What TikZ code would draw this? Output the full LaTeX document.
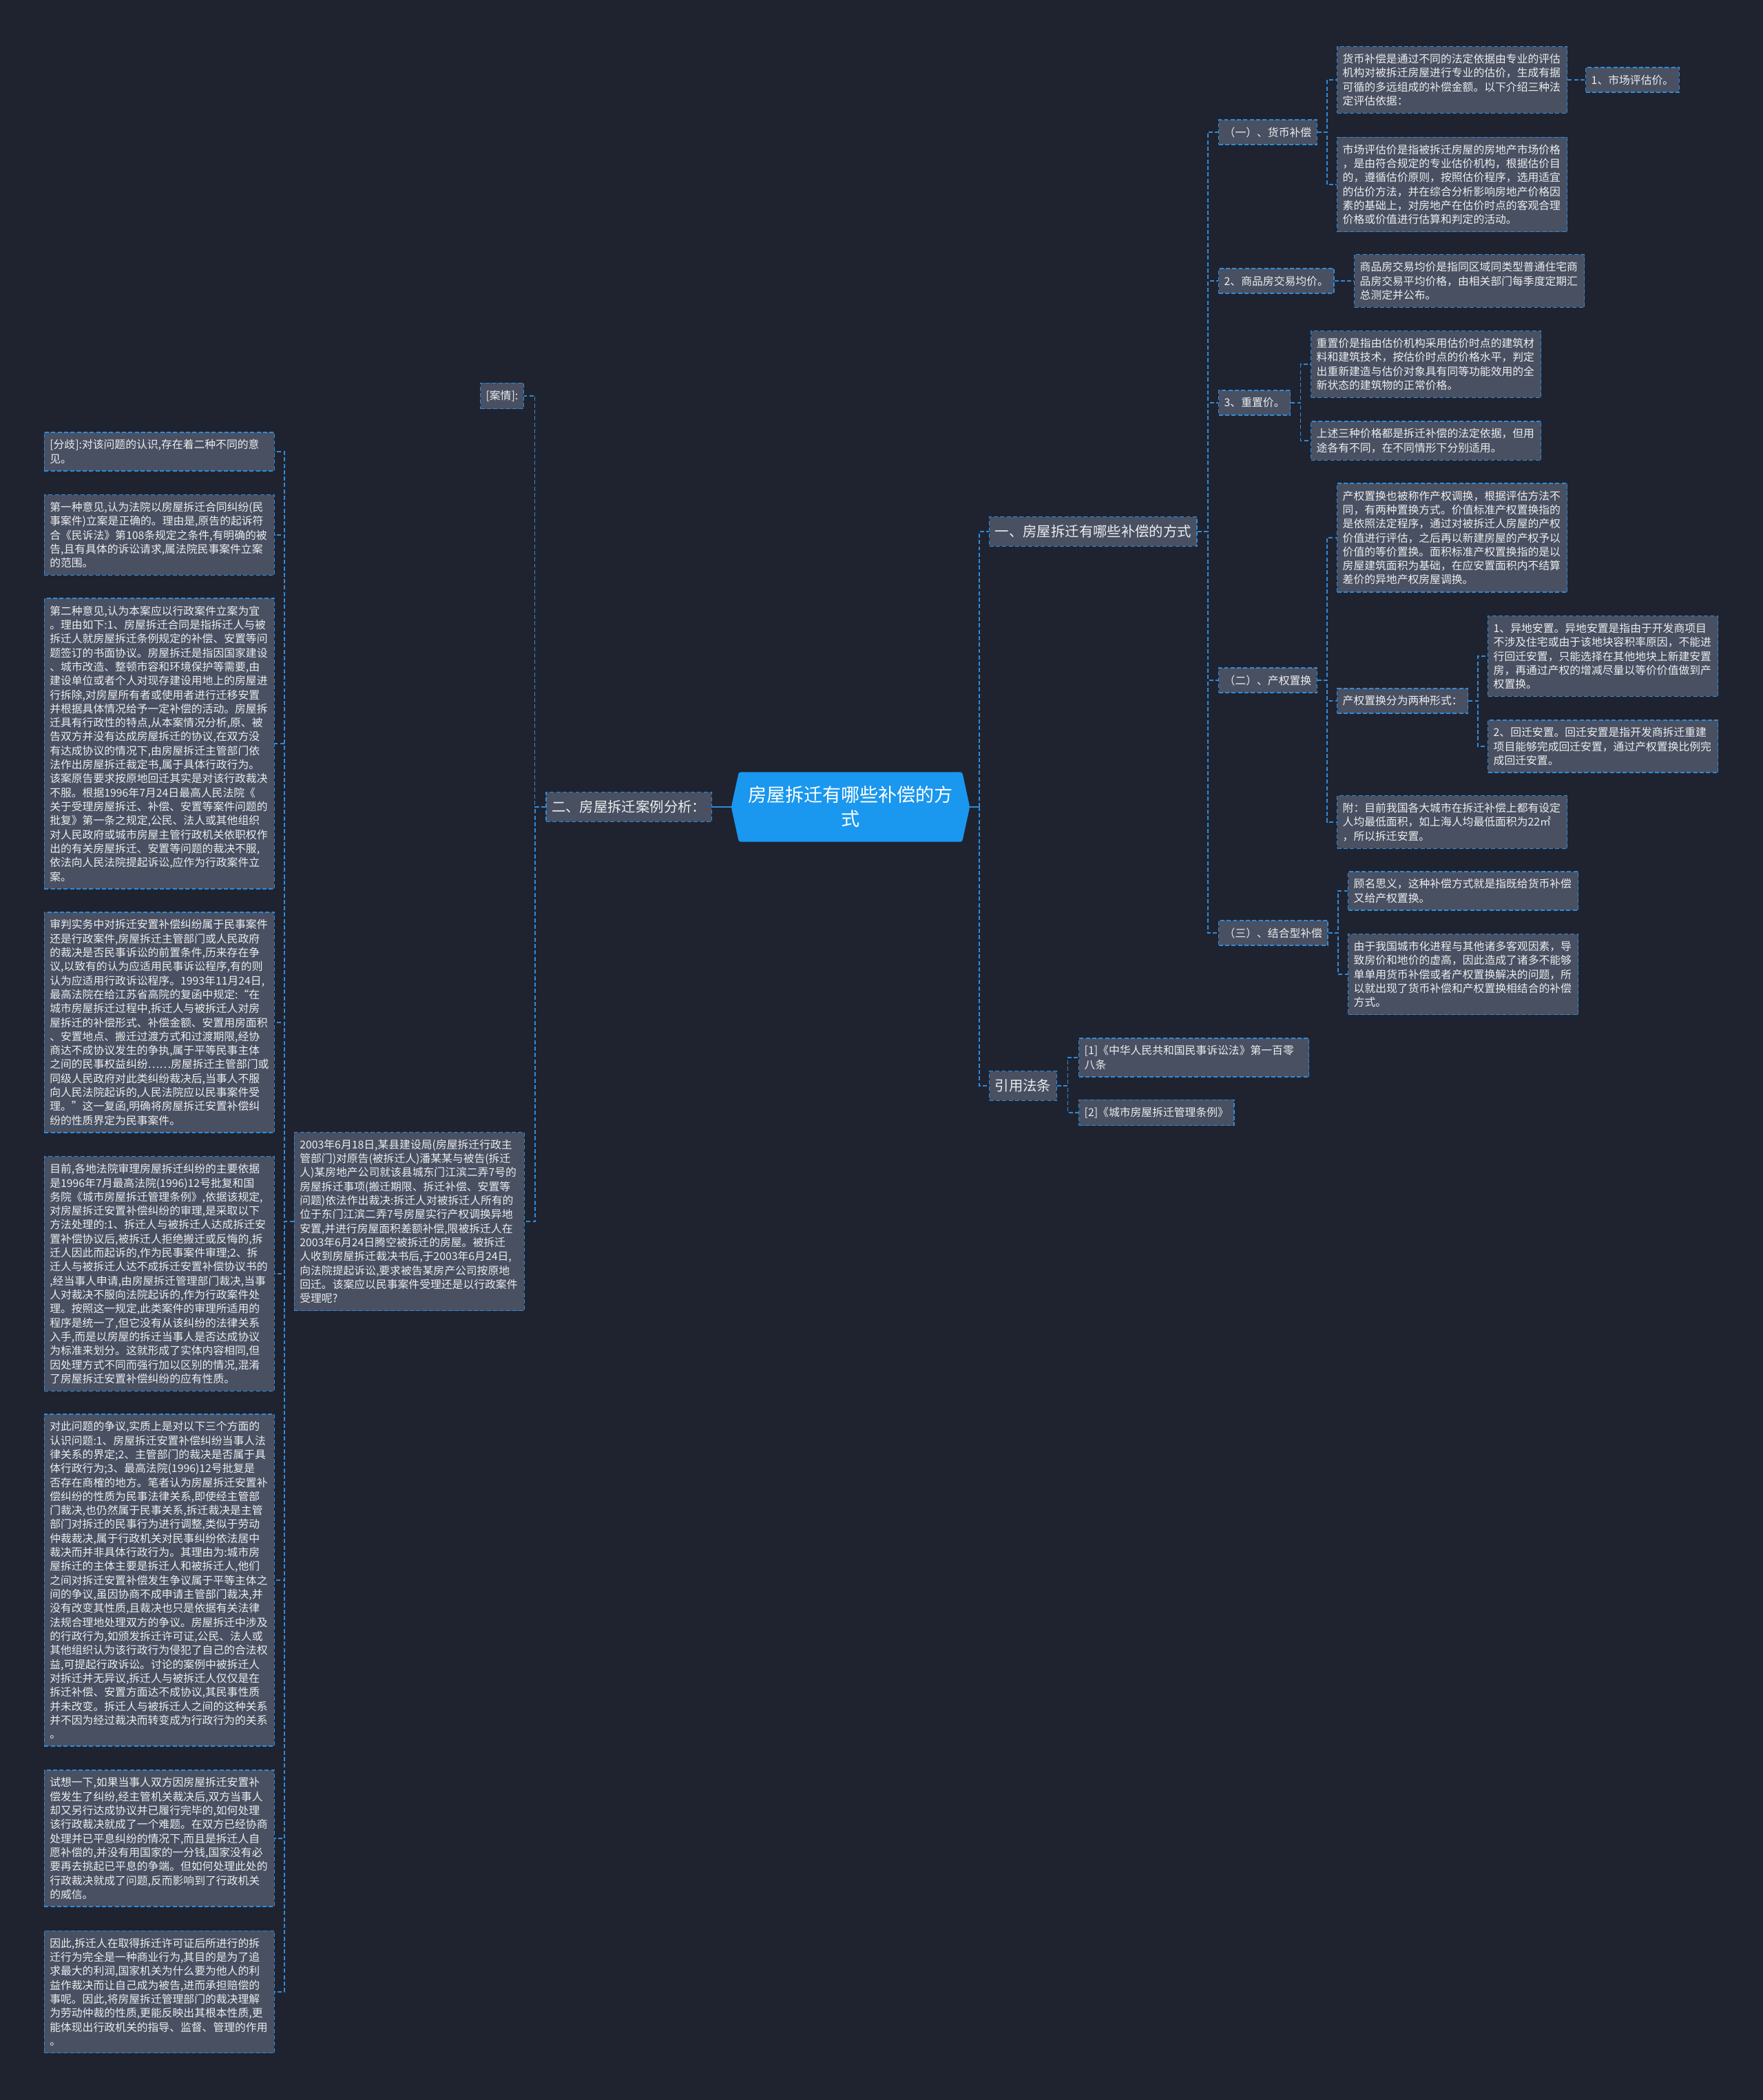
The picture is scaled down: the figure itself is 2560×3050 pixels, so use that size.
\documentclass[tikz,border=0pt]{standalone}
\usepackage{fontspec}
\setmainfont{Noto Sans CJK SC}
\usetikzlibrary{positioning}
\usetikzlibrary{calc}
\usetikzlibrary{backgrounds}
\definecolor{bgdark}{HTML}{1F2330}
\definecolor{boxgray}{HTML}{485062}
\definecolor{lineblue}{HTML}{2F8BD9}
\definecolor{rootblue}{HTML}{1A97EE}
\definecolor{txtwhite}{HTML}{EDEDED}

\begin{document}
\begin{tikzpicture}[x=0.1mm, y=-0.1mm,
    every node/.style={font=\fontsize{4.5pt}{5.78pt}\selectfont, text=txtwhite},
    topic/.style={draw=lineblue, dash pattern=on 1.7pt off 0.95pt, line width=0.4pt, fill=boxgray, inner xsep=0.8mm, inner ysep=1.05mm, align=left},
    wide/.style={topic, text width=31.8mm},
    major/.style={topic, font=\fontsize{5.8pt}{7pt}\selectfont, inner ysep=1.2mm},
    link/.style={draw=lineblue, dash pattern=on 1.7pt off 0.95pt, line width=0.43pt}]
\useasboundingbox (0,0) rectangle (2560,3050);

\node[font=\fontsize{7.7pt}{10pt}\selectfont, text=white, align=center, minimum width=32.3mm, minimum height=10mm] (root) at (1235,1172) {房屋拆迁有哪些补偿的方\\式};

\node[major, anchor=west] (ways) at (1436,772) {一、房屋拆迁有哪些补偿的方式};
\node[major, anchor=west] (law) at (1436,1577) {引用法条};
\node[major, anchor=east] (case) at (1034,1172) {二、房屋拆迁案例分析：};

\node[topic, anchor=west] (cash) at (1769,192) {（一）、货币补偿};
\node[wide, anchor=west] (cashA) at (1941,116) {货币补偿是通过不同的法定依据由专业的评估\\机构对被拆迁房屋进行专业的估价，生成有据\\可循的多远组成的补偿金额。以下介绍三种法\\定评估依据：};
\node[topic, anchor=west] (market) at (2302,116) {1、市场评估价。};
\node[wide, anchor=west] (cashB) at (1941,268) {市场评估价是指被拆迁房屋的房地产市场价格\\，是由符合规定的专业估价机构，根据估价目\\的，遵循估价原则，按照估价程序，选用适宜\\的估价方法，并在综合分析影响房地产价格因\\素的基础上，对房地产在估价时点的客观合理\\价格或价值进行估算和判定的活动。};
\node[topic, anchor=west] (avg) at (1769,408) {2、商品房交易均价。};
\node[wide, anchor=west] (avgA) at (1966,408) {商品房交易均价是指同区域同类型普通住宅商\\品房交易平均价格，由相关部门每季度定期汇\\总测定并公布。};
\node[topic, anchor=west] (reset) at (1769,585) {3、重置价。};
\node[wide, anchor=west] (resetA) at (1903,529) {重置价是指由估价机构采用估价时点的建筑材\\料和建筑技术，按估价时点的价格水平，判定\\出重新建造与估价对象具有同等功能效用的全\\新状态的建筑物的正常价格。};
\node[wide, anchor=west] (resetB) at (1903,640) {上述三种价格都是拆迁补偿的法定依据，但用\\途各有不同，在不同情形下分别适用。};
\node[topic, anchor=west] (swap) at (1769,988) {（二）、产权置换};
\node[wide, anchor=west] (swapA) at (1941,781) {产权置换也被称作产权调换，根据评估方法不\\同，有两种置换方式。价值标准产权置换指的\\是依照法定程序，通过对被拆迁人房屋的产权\\价值进行评估，之后再以新建房屋的产权予以\\价值的等价置换。面积标准产权置换指的是以\\房屋建筑面积为基础，在应安置面积内不结算\\差价的异地产权房屋调换。};
\node[topic, anchor=west] (forms) at (1941,1018) {产权置换分为两种形式：};
\node[wide, anchor=west] (formA) at (2160,953) {1、异地安置。异地安置是指由于开发商项目\\不涉及住宅或由于该地块容积率原因，不能进\\行回迁安置，只能选择在其他地块上新建安置\\房，再通过产权的增减尽量以等价价值做到产\\权置换。};
\node[wide, anchor=west] (formB) at (2160,1084) {2、回迁安置。回迁安置是指开发商拆迁重建\\项目能够完成回迁安置，通过产权置换比例完\\成回迁安置。};
\node[wide, anchor=west] (swapB) at (1941,1194) {附：目前我国各大城市在拆迁补偿上都有设定\\人均最低面积，如上海人均最低面积为22㎡\\，所以拆迁安置。};
\node[topic, anchor=west] (mixed) at (1769,1355) {（三）、结合型补偿};
\node[wide, anchor=west] (mixedA) at (1957,1294) {顾名思义，这种补偿方式就是指既给货币补偿\\又给产权置换。};
\node[wide, anchor=west] (mixedB) at (1957,1415) {由于我国城市化进程与其他诸多客观因素，导\\致房价和地价的虚高，因此造成了诸多不能够\\单单用货币补偿或者产权置换解决的问题，所\\以就出现了货币补偿和产权置换相结合的补偿\\方式。};
\node[wide, anchor=west] (lawA) at (1566,1536) {[1]《中华人民共和国民事诉讼法》第一百零\\八条};
\node[topic, anchor=west] (lawB) at (1566,1616) {[2]《城市房屋拆迁管理条例》};

\node[topic, anchor=east] (facts) at (761,575) {[案情]:};
\node[wide, anchor=east] (story) at (762,1774) {2003年6月18日,某县建设局(房屋拆迁行政主\\管部门)对原告(被拆迁人)潘某某与被告(拆迁\\人)某房地产公司就该县城东门江滨二弄7号的\\房屋拆迁事项(搬迁期限、拆迁补偿、安置等\\问题)依法作出裁决:拆迁人对被拆迁人所有的\\位于东门江滨二弄7号房屋实行产权调换异地\\安置,并进行房屋面积差额补偿,限被拆迁人在\\2003年6月24日腾空被拆迁的房屋。被拆迁\\人收到房屋拆迁裁决书后,于2003年6月24日,\\向法院提起诉讼,要求被告某房产公司按原地\\回迁。该案应以民事案件受理还是以行政案件\\受理呢?};
\node[wide, anchor=east] (split) at (399,656) {[分歧]:对该问题的认识,存在着二种不同的意\\见。};
\node[wide, anchor=east] (view1) at (399,777) {第一种意见,认为法院以房屋拆迁合同纠纷(民\\事案件)立案是正确的。理由是,原告的起诉符\\合《民诉法》第108条规定之条件,有明确的被\\告,且有具体的诉讼请求,属法院民事案件立案\\的范围。};
\node[wide, anchor=east] (view2) at (399,1080) {第二种意见,认为本案应以行政案件立案为宜\\。理由如下:1、房屋拆迁合同是指拆迁人与被\\拆迁人就房屋拆迁条例规定的补偿、安置等问\\题签订的书面协议。房屋拆迁是指因国家建设\\、城市改造、整顿市容和环境保护等需要,由\\建设单位或者个人对现存建设用地上的房屋进\\行拆除,对房屋所有者或使用者进行迁移安置\\并根据具体情况给予一定补偿的活动。房屋拆\\迁具有行政性的特点,从本案情况分析,原、被\\告双方并没有达成房屋拆迁的协议,在双方没\\有达成协议的情况下,由房屋拆迁主管部门依\\法作出房屋拆迁裁定书,属于具体行政行为。\\该案原告要求按原地回迁其实是对该行政裁决\\不服。根据1996年7月24日最高人民法院《\\关于受理房屋拆迁、补偿、安置等案件问题的\\批复》第一条之规定,公民、法人或其他组织\\对人民政府或城市房屋主管行政机关依职权作\\出的有关房屋拆迁、安置等问题的裁决不服,\\依法向人民法院提起诉讼,应作为行政案件立\\案。};
\node[wide, anchor=east] (practice) at (399,1485) {审判实务中对拆迁安置补偿纠纷属于民事案件\\还是行政案件,房屋拆迁主管部门或人民政府\\的裁决是否民事诉讼的前置条件,历来存在争\\议,以致有的认为应适用民事诉讼程序,有的则\\认为应适用行政诉讼程序。1993年11月24日,\\最高法院在给江苏省高院的复函中规定:“在\\城市房屋拆迁过程中,拆迁人与被拆迁人对房\\屋拆迁的补偿形式、补偿金额、安置用房面积\\、安置地点、搬迁过渡方式和过渡期限,经协\\商达不成协议发生的争执,属于平等民事主体\\之间的民事权益纠纷……房屋拆迁主管部门或\\同级人民政府对此类纠纷裁决后,当事人不服\\向人民法院起诉的,人民法院应以民事案件受\\理。”这一复函,明确将房屋拆迁安置补偿纠\\纷的性质界定为民事案件。};
\node[wide, anchor=east] (basis) at (399,1850) {目前,各地法院审理房屋拆迁纠纷的主要依据\\是1996年7月最高法院(1996)12号批复和国\\务院《城市房屋拆迁管理条例》,依据该规定,\\对房屋拆迁安置补偿纠纷的审理,是采取以下\\方法处理的:1、拆迁人与被拆迁人达成拆迁安\\置补偿协议后,被拆迁人拒绝搬迁或反悔的,拆\\迁人因此而起诉的,作为民事案件审理;2、拆\\迁人与被拆迁人达不成拆迁安置补偿协议书的\\,经当事人申请,由房屋拆迁管理部门裁决,当事\\人对裁决不服向法院起诉的,作为行政案件处\\理。按照这一规定,此类案件的审理所适用的\\程序是统一了,但它没有从该纠纷的法律关系\\入手,而是以房屋的拆迁当事人是否达成协议\\为标准来划分。这就形成了实体内容相同,但\\因处理方式不同而强行加以区别的情况,混淆\\了房屋拆迁安置补偿纠纷的应有性质。};
\node[wide, anchor=east] (dispute) at (399,2295) {对此问题的争议,实质上是对以下三个方面的\\认识问题:1、房屋拆迁安置补偿纠纷当事人法\\律关系的界定;2、主管部门的裁决是否属于具\\体行政行为;3、最高法院(1996)12号批复是\\否存在商榷的地方。笔者认为房屋拆迁安置补\\偿纠纷的性质为民事法律关系,即使经主管部\\门裁决,也仍然属于民事关系,拆迁裁决是主管\\部门对拆迁的民事行为进行调整,类似于劳动\\仲裁裁决,属于行政机关对民事纠纷依法居中\\裁决而并非具体行政行为。其理由为:城市房\\屋拆迁的主体主要是拆迁人和被拆迁人,他们\\之间对拆迁安置补偿发生争议属于平等主体之\\间的争议,虽因协商不成申请主管部门裁决,并\\没有改变其性质,且裁决也只是依据有关法律\\法规合理地处理双方的争议。房屋拆迁中涉及\\的行政行为,如颁发拆迁许可证,公民、法人或\\其他组织认为该行政行为侵犯了自己的合法权\\益,可提起行政诉讼。讨论的案例中被拆迁人\\对拆迁并无异议,拆迁人与被拆迁人仅仅是在\\拆迁补偿、安置方面达不成协议,其民事性质\\并未改变。拆迁人与被拆迁人之间的这种关系\\并不因为经过裁决而转变成为行政行为的关系\\。};
\node[wide, anchor=east] (suppose) at (399,2670) {试想一下,如果当事人双方因房屋拆迁安置补\\偿发生了纠纷,经主管机关裁决后,双方当事人\\却又另行达成协议并已履行完毕的,如何处理\\该行政裁决就成了一个难题。在双方已经协商\\处理并已平息纠纷的情况下,而且是拆迁人自\\愿补偿的,并没有用国家的一分钱,国家没有必\\要再去挑起已平息的争端。但如何处理此处的\\行政裁决就成了问题,反而影响到了行政机关\\的威信。};
\node[wide, anchor=east] (hence) at (399,2893) {因此,拆迁人在取得拆迁许可证后所进行的拆\\迁行为完全是一种商业行为,其目的是为了追\\求最大的利润,国家机关为什么要为他人的利\\益作裁决而让自己成为被告,进而承担赔偿的\\事呢。因此,将房屋拆迁管理部门的裁决理解\\为劳动仲裁的性质,更能反映出其根本性质,更\\能体现出行政机关的指导、监督、管理的作用\\。};

\begin{scope}[on background layer]
\fill[bgdark] (0,0) rectangle (2560,3050);
\fill[rootblue, rounded corners=0.3mm] (root.north west) -- (root.north east) -- ($(root.east)+(11,0)$) -- (root.south east) -- (root.south west) -- ($(root.west)+(-11,0)$) -- cycle;
\end{scope}

\draw[lineblue, line width=0.45pt] ($(root.west)+(-11,0)$) -- (case.east);
\draw[lineblue, line width=0.45pt] ($(root.east)+(11,0)$) -- ++(14,0) coordinate (rootjoin);
\draw[link] (rootjoin) |- (ways.west);
\draw[link] (rootjoin) |- (law.west);

\foreach \c in {cash,avg,reset,swap,mixed}
  \draw[link] (ways.east) -| ($(ways.east)!.5!(\c.west)$) |- (\c.west);
\foreach \c in {cashA,cashB}
  \draw[link] (cash.east) -| ($(cash.east)!.5!(\c.west)$) |- (\c.west);
\draw[link] (cashA.east) -- (market.west);
\draw[link] (avg.east) -- (avgA.west);
\foreach \c in {resetA,resetB}
  \draw[link] (reset.east) -| ($(reset.east)!.5!(\c.west)$) |- (\c.west);
\foreach \c in {swapA,forms,swapB}
  \draw[link] (swap.east) -| ($(swap.east)!.5!(\c.west)$) |- (\c.west);
\foreach \c in {formA,formB}
  \draw[link] (forms.east) -| ($(forms.east)!.5!(\c.west)$) |- (\c.west);
\foreach \c in {mixedA,mixedB}
  \draw[link] (mixed.east) -| ($(mixed.east)!.5!(\c.west)$) |- (\c.west);
\foreach \c in {lawA,lawB}
  \draw[link] (law.east) -| ($(law.east)!.5!(\c.west)$) |- (\c.west);

\foreach \c in {facts,story}
  \draw[link] (case.west) -| ($(case.west)!.5!(\c.east)$) |- (\c.east);
\foreach \c in {split,view1,view2,practice,basis,dispute,suppose,hence}
  \draw[link] (story.west) -| ($(story.west)!.5!(\c.east)$) |- (\c.east);
\end{tikzpicture}
\end{document}
